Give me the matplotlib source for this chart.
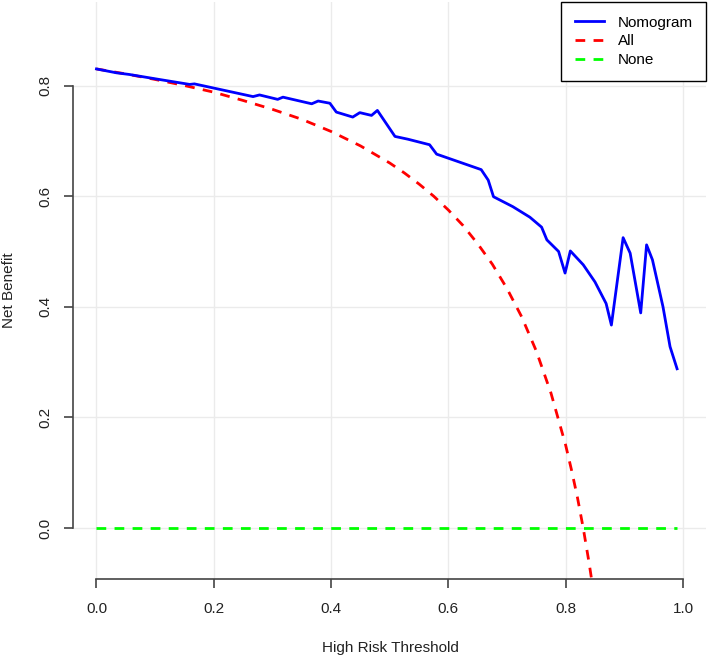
import matplotlib
matplotlib.use("Agg")
import matplotlib.pyplot as plt

plt.rcParams['font.family'] = ['Liberation Sans', 'DejaVu Sans']

# decision curve
nomo_x = [0.000, 0.034, 0.056, 0.107, 0.159, 0.167, 0.267, 0.278, 0.309, 0.318,
          0.367, 0.378, 0.398, 0.409, 0.437, 0.449, 0.469, 0.479, 0.509, 0.531,
          0.568, 0.580, 0.656, 0.668, 0.677, 0.710, 0.739, 0.759, 0.768, 0.788,
          0.799, 0.808, 0.830, 0.850, 0.869, 0.878, 0.898, 0.910, 0.928, 0.938,
          0.948, 0.966, 0.978, 0.990]
nomo_y = [0.830, 0.823, 0.820, 0.811, 0.802, 0.803, 0.780, 0.783, 0.775, 0.779,
          0.767, 0.772, 0.768, 0.752, 0.743, 0.751, 0.746, 0.755, 0.708, 0.703,
          0.693, 0.676, 0.648, 0.629, 0.599, 0.581, 0.562, 0.544, 0.521, 0.500,
          0.461, 0.501, 0.476, 0.445, 0.406, 0.367, 0.525, 0.497, 0.389, 0.512,
          0.485, 0.400, 0.328, 0.288]

all_x = [0.00, 0.05, 0.10, 0.15, 0.20, 0.25, 0.30, 0.35, 0.40, 0.45, 0.50,
         0.525, 0.55, 0.575, 0.60, 0.625, 0.65, 0.675, 0.70, 0.725, 0.75,
         0.775, 0.80, 0.81, 0.82, 0.83, 0.84, 0.85]
all_y = [0.830, 0.821, 0.811, 0.800, 0.788, 0.773, 0.757, 0.739, 0.717, 0.691,
         0.660, 0.642, 0.622, 0.600, 0.575, 0.547, 0.514, 0.477, 0.433, 0.382,
         0.320, 0.244, 0.150, 0.105, 0.056, 0.000, -0.063, -0.133]

none_x = [0.0, 0.99]
none_y = [0.0, 0.0]

x_ticks = [0.0, 0.2, 0.4, 0.6, 0.8, 1.0]
y_ticks = [0.0, 0.2, 0.4, 0.6, 0.8]

W, H = 708, 655
fig = plt.figure(figsize=(W / 100, H / 100), dpi=100)
ax = fig.add_axes([73 / W, (H - 579) / H, (706.4 - 73) / W, (579 - 2) / H])

ax.set_xlim(-0.04, 1.04)
ax.set_ylim(-0.092, 0.951)

for v in x_ticks:
    ax.axvline(v, color='#ebebeb', lw=1, zorder=0)
for v in y_ticks:
    ax.axhline(v, color='#ebebeb', lw=1, zorder=0)

ax.plot(nomo_x, nomo_y, color='#0000ff', lw=2, label='Nomogram', zorder=3)
ax.plot(all_x, all_y, color='#ff0000', lw=2, ls=(0, (3.5, 3)), label='All', zorder=2)
ax.plot(none_x, none_y, color='#00ff00', lw=2, ls=(0, (3.5, 3)), label='None', zorder=2)

# R-style axes: line only spanning the ticks
for s in ['top', 'right']:
    ax.spines[s].set_visible(False)
ax.spines['bottom'].set_bounds(0.0, 1.0)
ax.spines['left'].set_bounds(0.0, 0.8)
for s in ['bottom', 'left']:
    ax.spines[s].set_color('#444444')
    ax.spines[s].set_linewidth(1.2)

ax.set_xticks(x_ticks)
ax.set_yticks(y_ticks)
ax.set_xticklabels([f"{v:.1f}" for v in x_ticks])
ax.set_yticklabels([f"{v:.1f}" for v in y_ticks], rotation=90, va='center')
ax.tick_params(axis='both', length=6.5, width=1.2, color='#444444',
               labelsize=11, labelcolor='#222222')
ax.tick_params(axis='x', pad=10)
ax.tick_params(axis='y', pad=8.5)

fig.text(390 / W, 1 - 648 / H, 'High Risk Threshold', fontsize=11,
         color='#222222', ha='center', va='center')
fig.text(9 / W, 1 - 290 / H, 'Net Benefit', fontsize=11, color='#222222',
         ha='center', va='center', rotation=90)

leg = ax.legend(loc='upper right', fontsize=11, frameon=True, fancybox=False,
                borderaxespad=0.0, handlelength=1.9, handletextpad=0.9,
                labelspacing=0.3, borderpad=0.9)
leg.get_frame().set_edgecolor('black')
leg.get_frame().set_linewidth(1.0)
leg.get_frame().set_alpha(1.0)

fig.savefig('out.png', dpi=100)
